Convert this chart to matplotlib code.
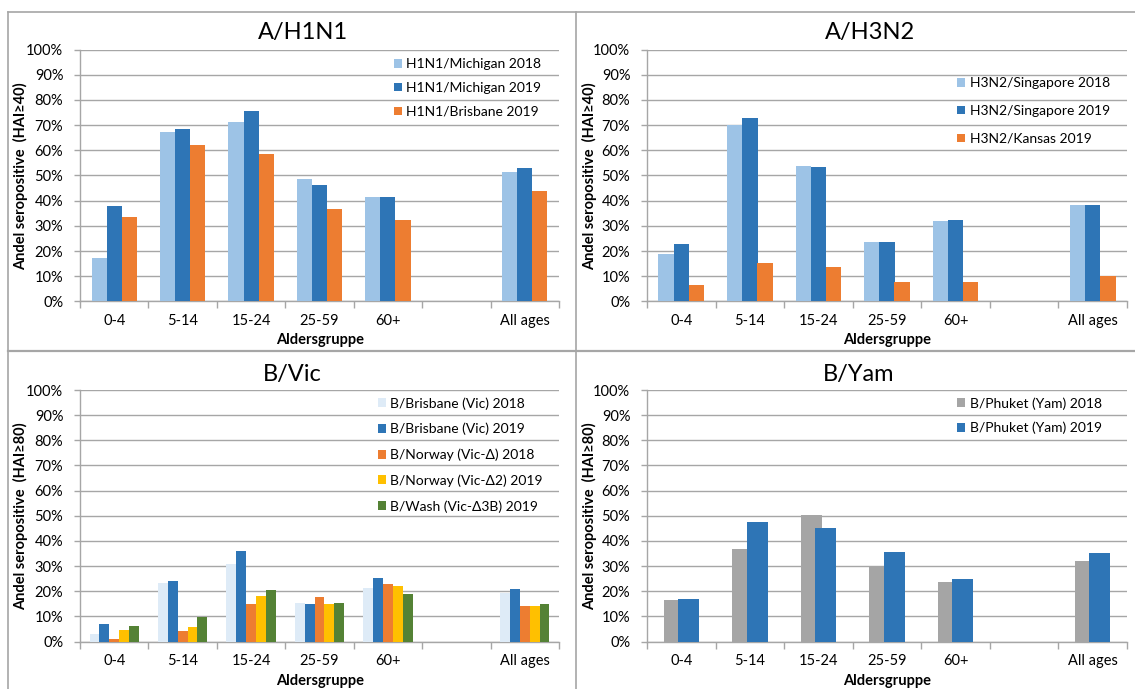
import numpy as np
import matplotlib as mpl
import matplotlib.pyplot as plt
from matplotlib.lines import Line2D

mpl.rcParams["font.family"] = ["Lato", "DejaVu Sans"]

# ── DATA ─────────────────────────────────────────────────────────────────────
CATEGORIES = ["0-4", "5-14", "15-24", "25-59", "60+", "", "All ages"]
NA = np.nan

H1N1_LABELS = ["H1N1/Michigan 2018", "H1N1/Michigan 2019", "H1N1/Brisbane 2019"]
H1N1_MICH_2018 = [17.4, 67.4, 71.2, 48.5, 41.6, NA, 51.5]
H1N1_MICH_2019 = [38.0, 68.4, 75.6, 46.1, 41.3, NA, 53.1]
H1N1_BRIS_2019 = [33.6, 62.1, 58.5, 36.9, 32.4, NA, 43.7]

H3N2_LABELS = ["H3N2/Singapore 2018", "H3N2/Singapore 2019", "H3N2/Kansas 2019"]
H3N2_SING_2018 = [18.8, 70.0, 53.6, 23.5, 32.0, NA, 38.3]
H3N2_SING_2019 = [22.7, 72.7, 53.4, 23.6, 32.4, NA, 38.4]
H3N2_KANS_2019 = [6.5, 15.2, 13.6, 7.7, 7.9, NA, 10.0]

BVIC_LABELS = ["B/Brisbane (Vic) 2018", "B/Brisbane (Vic) 2019", "B/Norway (Vic-Δ) 2018",
               "B/Norway (Vic-Δ2) 2019", "B/Wash (Vic-Δ3B) 2019"]
BVIC_BRIS_2018 = [3.0, 23.4, 30.8, 15.2, 21.4, NA, 19.4]
BVIC_BRIS_2019 = [7.0, 24.0, 36.1, 14.8, 25.2, NA, 21.0]
BVIC_NOR_2018 = [0.9, 4.0, 14.8, 17.8, 22.7, NA, 14.1]
BVIC_NOR2_2019 = [4.4, 5.8, 18.1, 15.1, 22.1, NA, 14.1]
BVIC_WASH_2019 = [6.1, 9.9, 20.5, 15.3, 18.8, NA, 14.8]

BYAM_LABELS = ["B/Phuket (Yam) 2018", "B/Phuket (Yam) 2019"]
BYAM_PHU_2018 = [16.5, 36.7, 50.1, 30.0, 23.5, NA, 32.1]
BYAM_PHU_2019 = [16.8, 47.4, 45.3, 35.7, 24.8, NA, 35.0]

# ── STYLE ────────────────────────────────────────────────────────────────────
LIGHT_BLUE = "#9DC3E6"
BLUE = "#2E75B6"
ORANGE = "#ED7D31"
PALE_BLUE = "#DEEBF7"
YELLOW = "#FFC000"
GREEN = "#548235"
GRAY = "#A5A5A5"
GRID = "#A6A6A6"
FRAME = "#A6A6A6"

W, H = 1135, 689
fig = plt.figure(figsize=(W / 100, H / 100), dpi=100)
fig.patch.set_facecolor("white")


def fx(px):
    return px / W


def fy(py):
    return 1 - py / H


def make_axes(x0, x1, ytop, ybot):
    return fig.add_axes([fx(x0), fy(ybot), fx(x1 - x0), fy(ytop) - fy(ybot)])


def style_axes(ax):
    x = np.arange(len(CATEGORIES))
    ax.set_xlim(-0.5, len(CATEGORIES) - 0.5)
    ax.set_ylim(0, 100)
    ax.set_yticks(np.arange(0, 101, 10))
    ax.set_yticklabels([f"{v}%" for v in range(0, 101, 10)], fontsize=10.5)
    ax.set_xticks(x)
    ax.set_xticklabels(CATEGORIES, fontsize=10.5)
    ax.set_xticks(np.arange(-0.5, len(CATEGORIES)), minor=True)
    ax.tick_params(axis="x", which="major", length=0, pad=9)
    ax.tick_params(axis="x", which="minor", length=5, color=GRID, width=1)
    ax.tick_params(axis="y", length=4, color=GRID, width=1, pad=8)
    ax.yaxis.grid(True, color=GRID, linewidth=1)
    ax.set_axisbelow(True)
    for s in ["top", "right"]:
        ax.spines[s].set_visible(False)
    for s in ["left", "bottom"]:
        ax.spines[s].set_color(GRID)
        ax.spines[s].set_linewidth(1)


def grouped_bars(ax, series, colors, labels, width, step):
    x = np.arange(len(CATEGORIES))
    n = len(series)
    for i, (vals, c, lab) in enumerate(zip(series, colors, labels)):
        off = (i - (n - 1) / 2) * step
        ax.bar(x + off, vals, width=width, color=c, label=lab, zorder=3 + i)


def add_legend(ax, lx, ly, spacing):
    ax.legend(loc="upper left", bbox_to_anchor=(fx(lx), fy(ly)),
              bbox_transform=fig.transFigure, frameon=False, fontsize=10,
              handlelength=0.6, handleheight=0.6, handletextpad=0.3,
              labelspacing=spacing, borderpad=0, borderaxespad=0)


def panel_text(title, tx, ty, ylabel, yx, yy, xx, xy):
    fig.text(fx(tx), fy(ty), title, ha="center", va="center", fontsize=17)
    fig.text(fx(yx), fy(yy), ylabel, ha="center", va="center", rotation=90,
             fontsize=10.5, fontweight="bold")
    fig.text(fx(xx), fy(xy), "Aldersgruppe", ha="center", va="center",
             fontsize=10.5, fontweight="bold")


# ── PANELS ───────────────────────────────────────────────────────────────────
ax1 = make_axes(80, 559, 49.5, 301.5)
grouped_bars(ax1, [H1N1_MICH_2018, H1N1_MICH_2019, H1N1_BRIS_2019],
             [LIGHT_BLUE, BLUE, ORANGE], H1N1_LABELS, 0.22, 0.22)
style_axes(ax1)
add_legend(ax1, 394, 58, 0.86)
panel_text("A/H1N1", 303, 32, "Andel seropositive  (HAI≥40)", 21, 176, 320, 340)

ax2 = make_axes(647, 1127, 49.5, 301.5)
grouped_bars(ax2, [H3N2_SING_2018, H3N2_SING_2019, H3N2_KANS_2019],
             [LIGHT_BLUE, BLUE, ORANGE], H3N2_LABELS, 0.225, 0.22)
style_axes(ax2)
add_legend(ax2, 957, 77, 1.15)
panel_text("A/H3N2", 870, 32, "Andel seropositive  (HAI≥40)", 590, 176, 887, 340)

ax3 = make_axes(80, 559, 390, 641.5)
grouped_bars(ax3, [BVIC_BRIS_2018, BVIC_BRIS_2019, BVIC_NOR_2018, BVIC_NOR2_2019, BVIC_WASH_2019],
             [PALE_BLUE, BLUE, ORANGE, YELLOW, GREEN], BVIC_LABELS, 0.144, 0.144)
style_axes(ax3)
add_legend(ax3, 378, 397, 0.95)
panel_text("B/Vic", 292, 374, "Andel seropositive  (HAI≥80)", 21, 516, 320, 681)

ax4 = make_axes(647, 1127, 390, 641.5)
grouped_bars(ax4, [BYAM_PHU_2018, BYAM_PHU_2019],
             [GRAY, BLUE], BYAM_LABELS, 0.307, 0.21)
style_axes(ax4)
add_legend(ax4, 957, 397, 0.86)
panel_text("B/Yam", 859, 374, "Andel seropositive  (HAI≥80)", 590, 516, 887, 681)

# ── PANEL FRAMES ─────────────────────────────────────────────────────────────
frame_lines = [
    ((8, 1135), (11.5, 11.5), 1.2),
    ((8, 1135), (351, 351), 1.6),
    ((8, 8), (11.5, 689), 1.2),
    ((575.5, 575.5), (11.5, 689), 1.2),
]
for xs, ys, lw in frame_lines:
    fig.add_artist(Line2D([fx(v) for v in xs], [fy(v) for v in ys],
                          color=FRAME, linewidth=lw, transform=fig.transFigure))

fig.savefig("out.png", dpi=100, facecolor="white")
